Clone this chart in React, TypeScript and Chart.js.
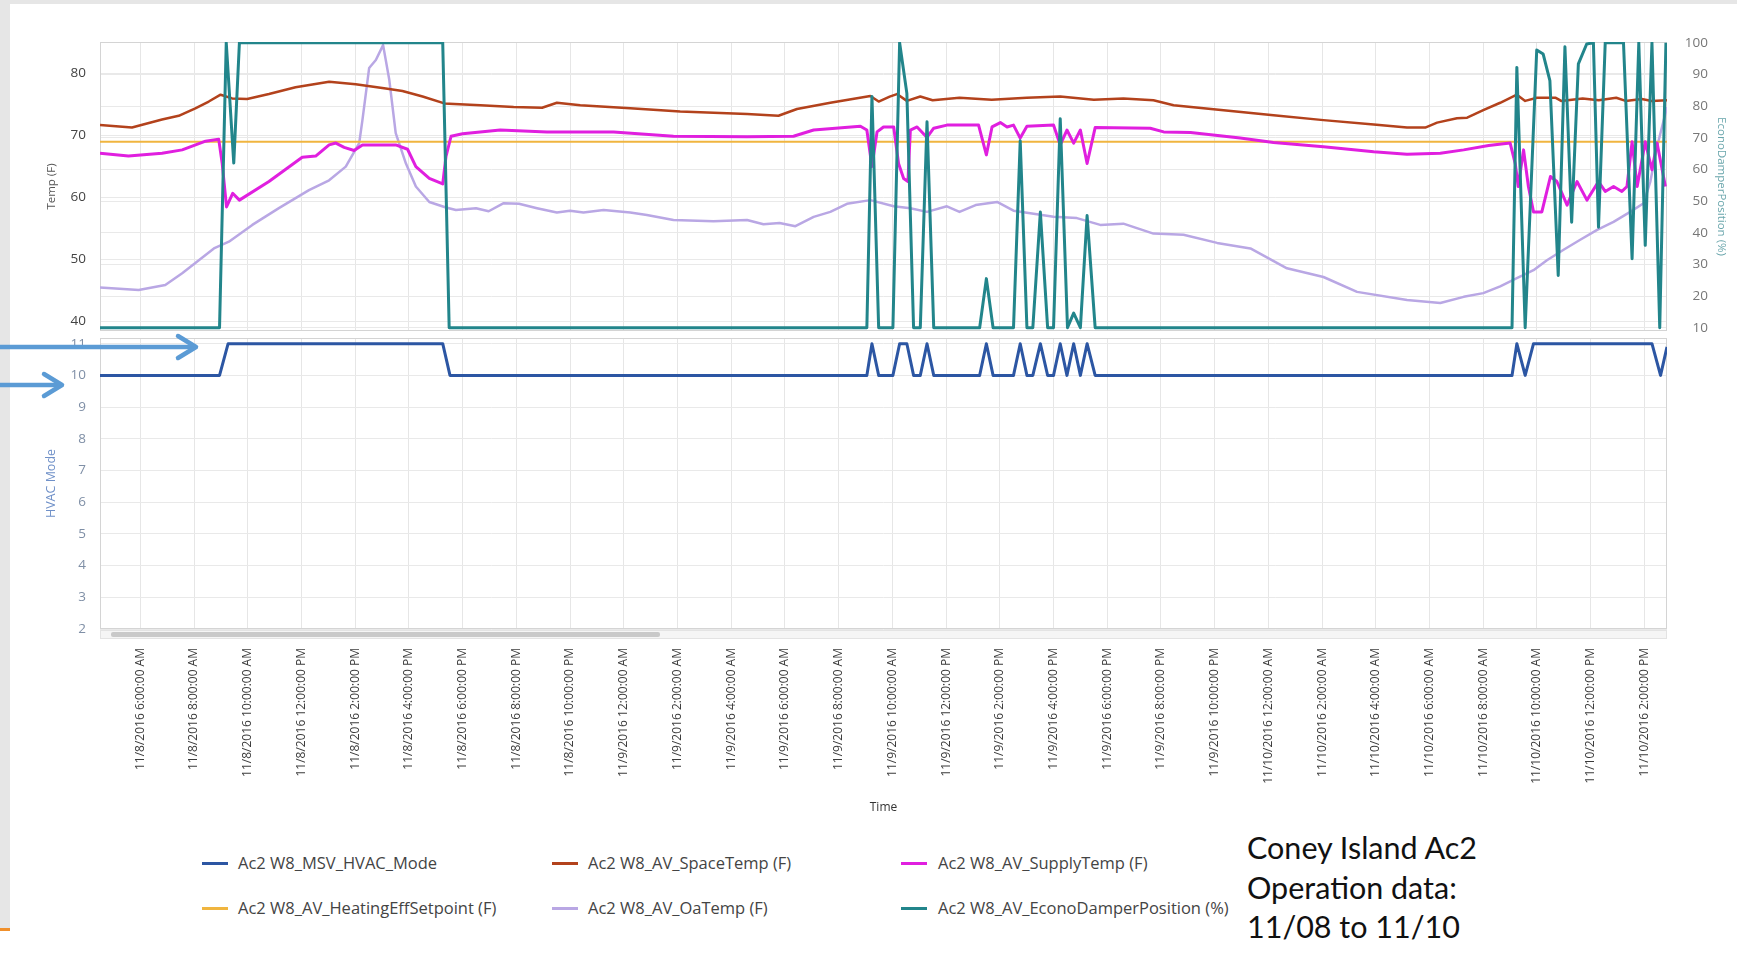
import React, { useEffect, useRef } from "react";
import { Chart, registerables } from "chart.js";
Chart.register(...registerables);

// ---------- axis ticks ----------
const xTickHours = [6, 8, 10, 12, 14, 16, 18, 20, 22, 24, 26, 28, 30, 32, 34, 36, 38, 40, 42, 44, 46, 48, 50, 52, 54, 56, 58, 60, 62];
const xTickLabels = [
  "11/8/2016 6:00:00 AM", "11/8/2016 8:00:00 AM", "11/8/2016 10:00:00 AM", "11/8/2016 12:00:00 PM",
  "11/8/2016 2:00:00 PM", "11/8/2016 4:00:00 PM", "11/8/2016 6:00:00 PM", "11/8/2016 8:00:00 PM",
  "11/8/2016 10:00:00 PM", "11/9/2016 12:00:00 AM", "11/9/2016 2:00:00 AM", "11/9/2016 4:00:00 AM",
  "11/9/2016 6:00:00 AM", "11/9/2016 8:00:00 AM", "11/9/2016 10:00:00 AM", "11/9/2016 12:00:00 PM",
  "11/9/2016 2:00:00 PM", "11/9/2016 4:00:00 PM", "11/9/2016 6:00:00 PM", "11/9/2016 8:00:00 PM",
  "11/9/2016 10:00:00 PM", "11/10/2016 12:00:00 AM", "11/10/2016 2:00:00 AM", "11/10/2016 4:00:00 AM",
  "11/10/2016 6:00:00 AM", "11/10/2016 8:00:00 AM", "11/10/2016 10:00:00 AM", "11/10/2016 12:00:00 PM",
  "11/10/2016 2:00:00 PM",
];
const tempTicks = [40, 50, 60, 70, 80];
const damperTicks = [10, 20, 30, 40, 50, 60, 70, 80, 90, 100];
const modeTicks = [2, 3, 4, 5, 6, 7, 8, 9, 10, 11];

// ---------- series (x = hours since 11/8/2016 00:00) ----------
const spaceTempHours = [4.5, 5.69, 6.81, 7.43, 8.05, 8.55, 8.99, 9.42, 9.98, 10.79, 11.78, 13.03, 14.02, 15.14, 15.76, 16.51, 17.32, 17.69, 18.66, 19.9, 20.96, 21.51, 22.38, 24.24, 26.1, 28.59, 29.76, 30.45, 31.69, 33.18, 33.49, 33.9, 34.17, 34.54, 35.04, 35.5, 36.5, 37.7, 39.0, 40.25, 41.5, 42.6, 43.72, 44.47, 46.33, 48.19, 50.05, 51.92, 53.16, 53.84, 54.28, 55.02, 55.4, 56.0, 56.63, 57.25, 57.56, 58.0, 58.7, 58.9, 59.7, 60.3, 60.95, 61.3, 61.9, 62.27, 62.84];
const spaceTempValues = [71.6, 71.2, 72.5, 73.1, 74.3, 75.4, 76.5, 75.9, 75.8, 76.6, 77.7, 78.6, 78.2, 77.5, 77.1, 76.2, 75.1, 75.0, 74.8, 74.5, 74.4, 75.2, 74.8, 74.3, 73.8, 73.4, 73.1, 74.2, 75.2, 76.3, 75.4, 76.2, 76.6, 75.5, 76.2, 75.6, 76.0, 75.7, 76.0, 76.2, 75.7, 75.9, 75.6, 74.8, 74.0, 73.2, 72.4, 71.7, 71.2, 71.2, 72.0, 72.7, 72.8, 74.0, 75.2, 76.5, 75.5, 76.0, 76.0, 75.5, 75.9, 75.6, 76.0, 75.5, 75.8, 75.5, 75.6];

const supplyTempHours = [4.5, 5.56, 6.81, 7.56, 8.43, 8.92, 9.05, 9.21, 9.44, 9.69, 10.79, 12.03, 12.53, 13.03, 13.28, 13.59, 13.96, 14.27, 15.51, 15.95, 16.26, 16.76, 17.26, 17.38, 17.57, 18.0, 19.4, 21.14, 23.62, 25.85, 28.59, 30.32, 31.07, 32.81, 33.05, 33.24, 33.43, 33.67, 34.05, 34.23, 34.42, 34.58, 34.67, 34.92, 35.29, 35.54, 36.03, 37.21, 37.5, 37.71, 38.02, 38.27, 38.51, 38.76, 39.01, 40.0, 40.25, 40.5, 40.75, 41.0, 41.25, 41.55, 43.6, 44.1, 45.1, 46.95, 48.19, 50.05, 51.92, 53.16, 54.4, 55.27, 56.2, 57.0, 57.19, 57.3, 57.5, 57.68, 57.87, 58.18, 58.5, 58.74, 59.12, 59.49, 59.86, 60.29, 60.54, 60.85, 61.16, 61.35, 61.54, 61.73, 62.03, 62.28, 62.47, 62.78];
const supplyTempValues = [67.05, 66.6, 67.05, 67.6, 69.0, 69.3, 65.4, 58.4, 60.6, 59.5, 62.5, 66.4, 66.6, 68.4, 68.7, 68.0, 67.5, 68.4, 68.4, 67.7, 64.9, 63.0, 62.1, 66.5, 69.8, 70.2, 70.8, 70.5, 70.5, 69.8, 69.7, 69.8, 70.8, 71.4, 70.8, 64.9, 70.5, 71.3, 71.3, 65.4, 63.0, 62.5, 70.8, 71.3, 69.6, 71.1, 71.6, 71.6, 66.8, 71.3, 72.0, 71.3, 71.6, 69.5, 71.4, 71.6, 68.4, 70.8, 68.7, 70.8, 65.4, 71.2, 71.1, 70.5, 70.4, 69.5, 68.8, 68.1, 67.3, 66.9, 67.05, 67.6, 68.3, 68.7, 65.4, 61.7, 67.6, 61.7, 57.6, 57.6, 63.3, 62.5, 58.7, 62.5, 59.5, 62.5, 60.9, 61.7, 60.9, 61.7, 68.9, 61.7, 68.9, 64.4, 68.7, 61.7];

const setpointHours = [4.5, 20.0, 40.0, 62.84];
const setpointValues = [68.9, 68.9, 68.9, 68.9];

const oaTempHours = [4.5, 5.94, 6.93, 7.56, 8.74, 9.3, 10.17, 11.16, 12.28, 13.03, 13.65, 14.15, 14.27, 14.52, 14.77, 15.04, 15.27, 15.51, 15.89, 16.26, 16.76, 17.38, 17.75, 18.5, 18.97, 19.53, 20.1, 20.77, 21.51, 22.0, 22.5, 23.25, 24.24, 24.86, 25.85, 27.34, 28.59, 29.2, 29.8, 30.39, 31.07, 31.69, 32.31, 33.18, 34.05, 34.67, 35.29, 36.03, 36.5, 37.1, 37.9, 38.51, 39.26, 40.0, 40.87, 41.74, 42.6, 43.72, 44.84, 46.09, 47.33, 48.69, 50.05, 51.3, 53.16, 54.4, 55.27, 56.0, 56.63, 57.25, 57.87, 58.37, 58.99, 59.61, 60.24, 60.85, 61.47, 61.97, 62.22, 62.47, 62.84];
const oaTempValues = [45.4, 45.0, 45.8, 47.7, 51.7, 52.8, 55.5, 58.2, 61.1, 62.7, 64.9, 68.7, 72.4, 80.8, 82.1, 84.5, 78.9, 70.3, 65.4, 61.7, 59.2, 58.3, 57.9, 58.2, 57.7, 59.0, 58.9, 58.2, 57.5, 57.8, 57.5, 57.9, 57.5, 57.1, 56.3, 56.1, 56.3, 55.6, 55.8, 55.3, 56.8, 57.6, 58.9, 59.5, 58.5, 58.2, 57.6, 58.5, 57.6, 58.7, 59.2, 57.8, 57.3, 56.8, 56.6, 55.5, 55.7, 54.1, 53.9, 52.6, 51.7, 48.5, 47.1, 44.7, 43.4, 42.9, 43.9, 44.5, 45.6, 46.9, 48.2, 49.8, 51.5, 53.1, 54.7, 56.0, 57.6, 59.0, 62.5, 68.1, 74.5];

const damperHours = [4.5, 8.95, 9.2, 9.48, 9.69, 17.26, 17.5, 33.05, 33.24, 33.49, 34.02, 34.27, 34.54, 34.79, 35.04, 35.29, 35.54, 37.25, 37.5, 37.75, 38.51, 38.76, 39.01, 39.23, 39.51, 39.78, 40.0, 40.25, 40.52, 40.75, 41.0, 41.25, 41.55, 57.07, 57.25, 57.56, 57.99, 58.23, 58.48, 58.79, 59.04, 59.29, 59.54, 59.85, 60.1, 60.29, 60.54, 61.22, 61.54, 61.79, 62.03, 62.28, 62.57, 62.8];
const damperValues = [10, 10, 100, 62, 100, 100, 10, 10, 83, 10, 10, 100, 84, 10, 10, 75, 10, 10, 25.5, 10, 10, 69, 10, 10, 46.5, 10, 10, 76, 10, 14.6, 10, 45.4, 10, 10, 92.2, 10, 97.7, 96.4, 88, 26.5, 98.7, 43.3, 93.3, 99.6, 100, 41.7, 100, 100, 31.8, 100, 36, 100, 10, 100];

const modeHours = [4.5, 8.95, 9.27, 17.26, 17.53, 33.05, 33.24, 33.49, 34.02, 34.27, 34.54, 34.79, 35.04, 35.29, 35.54, 37.25, 37.5, 37.75, 38.51, 38.76, 39.01, 39.23, 39.51, 39.78, 40.0, 40.25, 40.5, 40.75, 41.0, 41.25, 41.55, 57.07, 57.25, 57.56, 57.87, 62.28, 62.6, 62.84];
const modeValues = [10, 10, 11, 11, 10, 10, 11, 10, 10, 11, 11, 10, 10, 11, 10, 10, 11, 10, 10, 11, 10, 10, 11, 10, 10, 11, 10, 11, 10, 11, 10, 10, 11, 10, 11, 11, 10, 10.9];

const seriesNames = [
  "Ac2 W8_MSV_HVAC_Mode",
  "Ac2 W8_AV_SpaceTemp (F)",
  "Ac2 W8_AV_SupplyTemp (F)",
  "Ac2 W8_AV_HeatingEffSetpoint (F)",
  "Ac2 W8_AV_OaTemp (F)",
  "Ac2 W8_AV_EconoDamperPosition (%)",
];
const seriesColors = ["#2c56a3", "#b3421c", "#e01fdf", "#f0b53f", "#b9a7e4", "#22858b"];

const X_MIN = 4.5;
const X_MAX = 62.84;

function toPoints(hours: number[], values: number[]) {
  const n = Math.min(hours.length, values.length);
  const out: { x: number; y: number }[] = [];
  for (let i = 0; i < n; i++) out.push({ x: hours[i], y: values[i] });
  return out;
}

const panelBorder = {
  id: "panelBorder",
  beforeDatasetsDraw(chart: any) {
    const { ctx, chartArea: a } = chart;
    ctx.save();
    ctx.strokeStyle = "#d4d4d4";
    ctx.lineWidth = 1;
    ctx.strokeRect(Math.round(a.left) + 0.5, Math.round(a.top) + 0.5, Math.round(a.width) - 1, Math.round(a.height) - 1);
    ctx.restore();
  },
};

const FONT = "'Open Sans', 'Noto Sans', sans-serif";

function setXTicks(s: any) {
  s.ticks = xTickHours.map((v) => ({ value: v }));
}

export default function App() {
  const topRef = useRef<HTMLCanvasElement | null>(null);
  const botRef = useRef<HTMLCanvasElement | null>(null);

  useEffect(() => {
    Chart.defaults.font.family = FONT;
    const common: any = {
      animation: false,
      responsive: true,
      maintainAspectRatio: false,
      plugins: { legend: { display: false }, tooltip: { enabled: false } },
      elements: { point: { radius: 0 }, line: { tension: 0, borderJoinStyle: "round" } },
    };

    // left-axis grid: invisible tick marks give the label offset without adding vertical padding
    const leftGrid = { color: "#e9e9e9", drawTicks: true, tickLength: 14, tickColor: "rgba(0,0,0,0)" };

    const top = new Chart(topRef.current as HTMLCanvasElement, {
      type: "line",
      data: {
        datasets: [
          { label: seriesNames[5], data: toPoints(damperHours, damperValues), yAxisID: "yDamper", borderColor: seriesColors[5], borderWidth: 3 },
          { label: seriesNames[2], data: toPoints(supplyTempHours, supplyTempValues), yAxisID: "yTemp", borderColor: seriesColors[2], borderWidth: 3 },
          { label: seriesNames[1], data: toPoints(spaceTempHours, spaceTempValues), yAxisID: "yTemp", borderColor: seriesColors[1], borderWidth: 2.5 },
          { label: seriesNames[3], data: toPoints(setpointHours, setpointValues), yAxisID: "yTemp", borderColor: seriesColors[3], borderWidth: 2 },
          { label: seriesNames[4], data: toPoints(oaTempHours, oaTempValues), yAxisID: "yTemp", borderColor: seriesColors[4], borderWidth: 2.5 },
        ],
      },
      options: {
        ...common,
        layout: { padding: { top: 42, bottom: 11, left: 0, right: 29 } },
        scales: {
          x: {
            type: "linear",
            min: X_MIN,
            max: X_MAX,
            afterBuildTicks: setXTicks,
            afterFit: (s: any) => { s.height = 0; },
            ticks: { display: false },
            grid: { color: "#e6e6e6", drawTicks: false },
            border: { display: false },
          },
          yTemp: {
            type: "linear",
            position: "left",
            min: 38.39,
            max: 85,
            afterBuildTicks: (s: any) => { s.ticks = tempTicks.map((v) => ({ value: v })); },
            afterFit: (s: any) => { s.width = 100; },
            ticks: { padding: 0, color: "#444", font: { size: 13.5 } },
            grid: leftGrid,
            border: { display: false },
            title: { display: true, text: "Temp (F)", color: "#555", font: { size: 11.5 }, padding: { top: 45, bottom: 0 } },
          },
          yDamper: {
            type: "linear",
            position: "right",
            min: 8.96,
            max: 100.22,
            afterBuildTicks: (s: any) => { s.ticks = damperTicks.map((v) => ({ value: v })); },
            afterFit: (s: any) => { s.width = 41; },
            ticks: { padding: 0, crossAlign: "far", color: "#777", font: { size: 13.5 } },
            grid: { color: "#e9e9e9", drawTicks: false },
            border: { display: false },
            title: { display: true, text: "EconoDamperPosition (%)", color: "#6aa6ac", font: { size: 11.5 }, padding: { top: -20, bottom: 0 } },
          },
        },
      } as any,
      plugins: [panelBorder],
    });

    const bot = new Chart(botRef.current as HTMLCanvasElement, {
      type: "line",
      data: {
        datasets: [
          { label: seriesNames[0], data: toPoints(modeHours, modeValues), yAxisID: "yMode", borderColor: seriesColors[0], borderWidth: 3 },
        ],
      },
      options: {
        ...common,
        layout: { padding: { top: 12, bottom: 0, left: 0, right: 70 } },
        scales: {
          x: {
            type: "linear",
            min: X_MIN,
            max: X_MAX,
            afterBuildTicks: setXTicks,
            afterFit: (s: any) => { s.height = 194; },
            ticks: {
              autoSkip: false,
              maxRotation: 90,
              minRotation: 90,
              padding: 19,
              color: "#3a3a3a",
              font: { size: 12 },
              callback: (_v: any, i: number) => xTickLabels[i],
            },
            grid: { color: "#e6e6e6", drawTicks: false },
            border: { display: false },
            title: { display: true, text: "Time", color: "#333", font: { size: 12 }, padding: { top: 0, bottom: 8 } },
          },
          yMode: {
            type: "linear",
            position: "left",
            min: 2,
            max: 11.18,
            afterBuildTicks: (s: any) => { s.ticks = modeTicks.map((v) => ({ value: v })); },
            afterFit: (s: any) => { s.width = 100; },
            ticks: { padding: 0, color: "#7f8fa6", font: { size: 13.5 } },
            grid: leftGrid,
            border: { display: false },
            title: { display: true, text: "HVAC Mode", color: "#6f90c8", font: { size: 12.5 }, padding: { top: 44, bottom: 0 } },
          },
        },
      } as any,
      plugins: [panelBorder],
    });

    return () => {
      top.destroy();
      bot.destroy();
    };
  }, []);

  const legendCols = [
    { sx: 202, tx: 238 },
    { sx: 552, tx: 588 },
    { sx: 901, tx: 938 },
  ];
  const legendRows = [863, 908];
  const legendOrder = [0, 1, 2, 3, 4, 5];

  return (
    <div style={{ position: "absolute", left: 0, top: 0, width: 1737, height: 953, background: "#fff", overflow: "hidden" }}>
      <div style={{ position: "absolute", left: 0, top: 0, width: 1737, height: 4, background: "#e6e6e6" }} />
      <div style={{ position: "absolute", left: 0, top: 0, width: 10, height: 928, background: "#e6e6e6" }} />
      <div style={{ position: "absolute", left: 0, top: 928, width: 10, height: 3, background: "#f0902c" }} />

      <div style={{ position: "absolute", left: 0, top: 0, width: 1737, height: 342 }}>
        <canvas ref={topRef} />
      </div>
      <div style={{ position: "absolute", left: 0, top: 326, width: 1737, height: 497 }}>
        <canvas ref={botRef} />
      </div>

      {/* scrollbar */}
      <div style={{ position: "absolute", left: 100, top: 630, width: 1565, height: 7, background: "#f5f5f5", border: "1px solid #e3e3e3" }} />
      <div style={{ position: "absolute", left: 111, top: 632, width: 549, height: 5, background: "#c9c9c9", borderRadius: 2 }} />

      {/* legend */}
      {legendOrder.map((si, k) => {
        const col = legendCols[k % 3];
        const cy = legendRows[Math.floor(k / 3)];
        return (
          <React.Fragment key={si}>
            <div style={{ position: "absolute", left: col.sx, top: cy - 1.5, width: 26, height: 3, background: seriesColors[si] }} />
            <div style={{ position: "absolute", left: col.tx, top: cy - 12, height: 24, lineHeight: "24px", fontFamily: FONT, fontSize: 16.5, color: "#444", whiteSpace: "nowrap" }}>
              {seriesNames[si]}
            </div>
          </React.Fragment>
        );
      })}

      <div style={{ position: "absolute", left: 1247, top: 828, fontFamily: "Lato, sans-serif", fontSize: 30.5, lineHeight: "39.5px", color: "#111", whiteSpace: "nowrap" }}>
        <div>Coney Island Ac2</div>
        <div>Operation data:</div>
        <div>11/08 to 11/10</div>
      </div>

      {/* annotation arrows */}
      <svg width={1737} height={953} style={{ position: "absolute", left: 0, top: 0, pointerEvents: "none" }}>
        <g stroke="#5b9bd5" strokeWidth={4.5} fill="none" strokeLinecap="round" strokeLinejoin="round">
          <line x1={0} y1={347} x2={194} y2={347} />
          <polyline points="178,336 196,347 178,358" />
          <line x1={0} y1={385} x2={59} y2={385} />
          <polyline points="44,374 62,385 44,396" />
        </g>
      </svg>
    </div>
  );
}
